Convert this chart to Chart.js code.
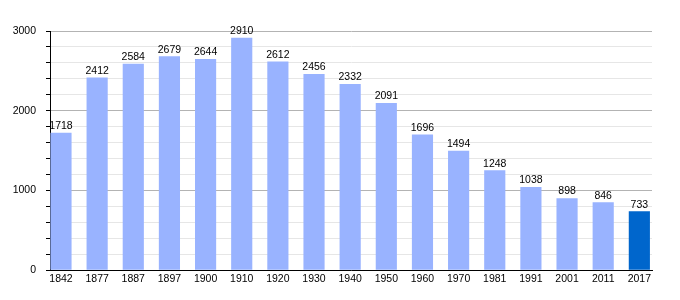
<!DOCTYPE html>
<html>
<head>
<meta charset="utf-8">
<script src="https://cdn.jsdelivr.net/npm/chart.js@4/dist/chart.umd.min.js"></script>
<style>
html,body{margin:0;padding:0;background:#fff;}
#wrap{width:680px;height:300px;position:relative;}
</style>
</head>
<body>
<div id="wrap"><canvas id="c" width="680" height="300"></canvas></div>
<script>
const categories = ["1842","1877","1887","1897","1900","1910","1920","1930","1940","1950","1960","1970","1981","1991","2001","2011","2017"];
const populations = [1718,2412,2584,2679,2644,2910,2612,2456,2332,2091,1696,1494,1248,1038,898,846,733];
const yTickLabels = [0,1000,2000,3000];

const FONT = "'Liberation Sans', Arial, sans-serif";
const lightBar = "#99b3ff";
const darkBar = "#0066cc";

const valueLabels = {
  id: 'valueLabels',
  afterDatasetsDraw(chart) {
    const ctx = chart.ctx;
    const meta = chart.getDatasetMeta(0);
    ctx.save();
    ctx.font = "10.5px " + FONT;
    ctx.fillStyle = "#000";
    ctx.textAlign = "center";
    ctx.textBaseline = "alphabetic";
    meta.data.forEach((bar, i) => {
      ctx.fillText(String(populations[i]), bar.x, bar.y - 4);
    });
    ctx.restore();
  }
};

new Chart(document.getElementById('c'), {
  type: 'bar',
  data: {
    datasets: [{
      data: populations.map((v, i) => ({x: i, y: v})),
      backgroundColor: populations.map((v, i) => i === populations.length - 1 ? darkBar : lightBar),
      borderWidth: 0,
      barThickness: 20.5
    }]
  },
  options: {
    responsive: false,
    animation: false,
    devicePixelRatio: 1,
    layout: {padding: {top: 31, right: 28, left: 0, bottom: 0}},
    plugins: {legend: {display: false}, tooltip: {enabled: false}},
    scales: {
      x: {
        type: 'linear',
        offset: false,
        min: -0.304,
        max: 16.35,
        afterBuildTicks(axis) { axis.ticks = categories.map((c, i) => ({value: i})); },
        afterFit(axis) { axis.height = 30; },
        grid: {display: false, drawTicks: false},
        border: {display: true, color: '#000', width: 1},
        ticks: {
          autoSkip: false, maxRotation: 0, minRotation: 0, padding: 3,
          color: '#000', font: {family: FONT, size: 10.5},
          callback: (v) => categories[v] !== undefined ? categories[v] : ''
        }
      },
      y: {
        min: 0,
        max: 3000,
        afterFit(axis) { axis.width = 50; },
        border: {display: true, color: '#000', width: 1},
        grid: {
          color: (c) => (c.tick && c.tick.value % 1000 === 0) ? '#b3b3b3' : '#e6e6e6',
          tickColor: '#000',
          tickLength: 4,
          drawTicks: true
        },
        ticks: {
          stepSize: 200,
          padding: 10,
          color: '#000',
          font: {family: FONT, size: 10.5},
          callback: (v) => yTickLabels.includes(v) ? String(v) : ''
        }
      }
    }
  },
  plugins: [valueLabels]
});
</script>
</body>
</html>
